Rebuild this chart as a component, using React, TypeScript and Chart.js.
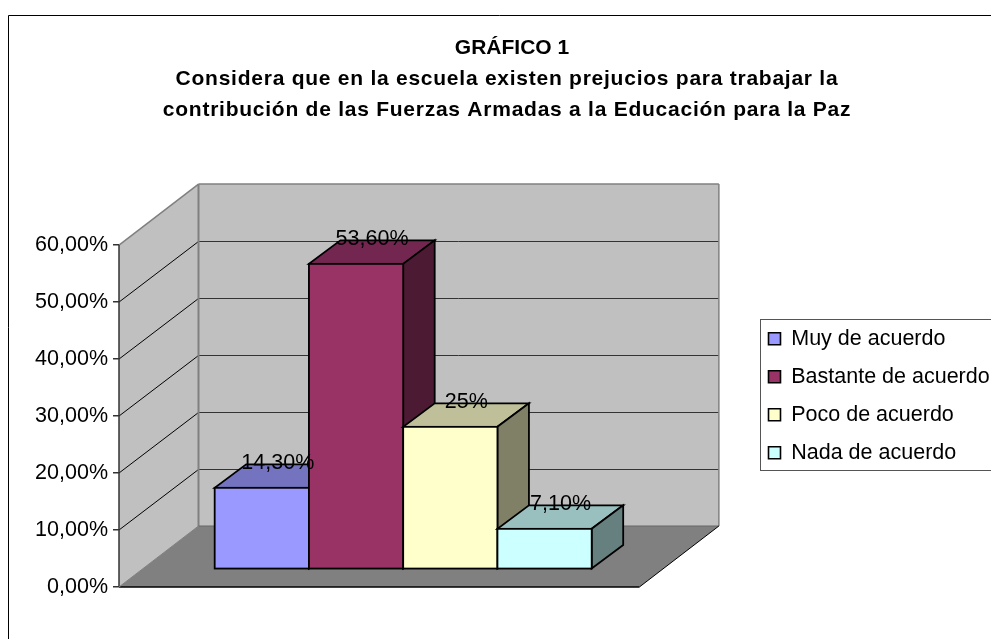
import React, { useEffect, useRef } from "react";
import { Chart, registerables } from "chart.js";

Chart.register(...registerables);

const categories = ["Respuestas"];
const seriesNames = ["Muy de acuerdo", "Bastante de acuerdo", "Poco de acuerdo", "Nada de acuerdo"];
const seriesValues = [14.3, 53.6, 25, 7.1];
const valueLabels = ["14,30%", "53,60%", "25%", "7,10%"];
const frontColors = ["#9999FF", "#993366", "#FFFFCC", "#CCFFFF"];
const topColors = ["#7373BF", "#732650", "#BFBF99", "#99BFBF"];
const sideColors = ["#4D4D80", "#4D1A33", "#808066", "#668080"];

const FONT = "'Liberation Sans', Arial, sans-serif";
const WALL_DX = 79.5;
const WALL_DY = -61;
const BAR_DX = 24;
const BAR_DY = -17.7;
const DEPTH_DX = 31.5;
const DEPTH_DY = -23.5;
const BAR_LINE = 1.8;

function poly(ctx: CanvasRenderingContext2D, pts: number[][], fill: string | null, stroke: string | null, lw = 1) {
  ctx.beginPath();
  pts.forEach((p, i) => (i ? ctx.lineTo(p[0], p[1]) : ctx.moveTo(p[0], p[1])));
  ctx.closePath();
  if (fill) {
    ctx.fillStyle = fill;
    ctx.fill();
  }
  if (stroke) {
    ctx.strokeStyle = stroke;
    ctx.lineWidth = lw;
    ctx.lineJoin = "miter";
    ctx.stroke();
  }
}

function line(ctx: CanvasRenderingContext2D, x1: number, y1: number, x2: number, y2: number, c: string, lw = 1) {
  ctx.beginPath();
  ctx.moveTo(x1, y1);
  ctx.lineTo(x2, y2);
  ctx.strokeStyle = c;
  ctx.lineWidth = lw;
  ctx.stroke();
}

const scene3d = {
  id: "scene3d",
  afterLayout(chart: any) {
    const lg = chart.legend;
    lg.left = 752;
    lg.right = 1000;
    lg.top = 311.5;
    lg.bottom = 500;
    chart.boxes.forEach((b: any) => {
      if (b.options && b.options.text && b !== lg) {
        b.left = 0;
        const isSub = Array.isArray(b.options.text);
        b.right = isSub ? 1014 : 1024;
        if (isSub && !b.__patched) {
          b.__patched = true;
          const draw = b.draw.bind(b);
          b.draw = () => {
            const ctx = chart.ctx;
            ctx.save();
            ctx.letterSpacing = "0.75px";
            draw();
            ctx.restore();
          };
        }
      }
    });
  },
  beforeDraw(chart: any) {
    const ctx: CanvasRenderingContext2D = chart.ctx;
    const { left, right } = chart.chartArea;
    const y = chart.scales.y;
    const y0 = y.getPixelForValue(0);
    const yMax = y.getPixelForValue(y.max);
    ctx.save();
    // chart frame
    ctx.fillStyle = "#FFFFFF";
    ctx.fillRect(0, 0, chart.width, chart.height);
    line(ctx, 8.5, 15.5, 991, 15.5, "#000000", 1);
    line(ctx, 8.5, 15.5, 8.5, 639, "#000000", 1);
    // side wall, back wall, floor
    poly(ctx, [[left, y0], [left + WALL_DX, y0 + WALL_DY], [left + WALL_DX, yMax + WALL_DY], [left, yMax]], "#C0C0C0", null);
    poly(ctx, [[left + WALL_DX, y0 + WALL_DY], [right + WALL_DX, y0 + WALL_DY], [right + WALL_DX, yMax + WALL_DY], [left + WALL_DX, yMax + WALL_DY]], "#C0C0C0", null);
    poly(ctx, [[left, y0], [left + WALL_DX, y0 + WALL_DY], [right + WALL_DX, y0 + WALL_DY], [right, y0]], "#808080", null);
    // gridlines
    y.ticks.forEach((t: any) => {
      const p = y.getPixelForValue(t.value);
      if (t.value > 0 && t.value < y.max) {
        const wallY = Math.round(p + WALL_DY) + 0.5;
        line(ctx, left, p, left + WALL_DX, wallY, "#000000", 1);
        line(ctx, left + WALL_DX, wallY, right + WALL_DX, wallY, "#333333", 1);
      }
    });
    // wall outlines
    line(ctx, left, yMax, left + WALL_DX, yMax + WALL_DY, "#808080", 1.5);
    line(ctx, left + WALL_DX, yMax + WALL_DY, right + WALL_DX, yMax + WALL_DY, "#808080", 1.5);
    line(ctx, left + WALL_DX, yMax + WALL_DY, left + WALL_DX, y0 + WALL_DY, "#808080", 2);
    line(ctx, right + WALL_DX, yMax + WALL_DY, right + WALL_DX, y0 + WALL_DY, "#808080", 1.5);
    line(ctx, left + WALL_DX, y0 + WALL_DY, right + WALL_DX, y0 + WALL_DY, "#666666", 1);
    line(ctx, right, y0, right + WALL_DX, y0 + WALL_DY, "#000000", 1);
    line(ctx, left, y0, right, y0, "#000000", 1.5);
    line(ctx, left, y0, left, yMax, "#333333", 1.5);
    line(ctx, left, y0, left + WALL_DX, y0 + WALL_DY, "#808080", 1);
    ctx.restore();
  },
  // Paint the series left to right, so that each box covers the hidden depth of the one before it.
  beforeDatasetsDraw(chart: any) {
    const ctx: CanvasRenderingContext2D = chart.ctx;
    seriesNames.forEach((_, i) => {
      const meta = chart.getDatasetMeta(i);
      ctx.save();
      ctx.translate(BAR_DX, BAR_DY);
      meta.data.forEach((bar: any) => {
        const { x, y, base, width } = bar.getProps(["x", "y", "base", "width"], true);
        const l = x - width / 2;
        const r = x + width / 2;
        poly(ctx, [[l, y], [r, y], [r + DEPTH_DX, y + DEPTH_DY], [l + DEPTH_DX, y + DEPTH_DY]], topColors[i], "#000000", BAR_LINE);
        poly(ctx, [[r, y], [r + DEPTH_DX, y + DEPTH_DY], [r + DEPTH_DX, base + DEPTH_DY], [r, base]], sideColors[i], "#000000", BAR_LINE);
      });
      meta.controller.draw();
      meta.data.forEach((bar: any) => {
        const { x, y, base, width } = bar.getProps(["x", "y", "base", "width"], true);
        ctx.strokeStyle = "#000000";
        ctx.lineWidth = BAR_LINE;
        ctx.strokeRect(x - width / 2, y, width, base - y);
      });
      ctx.restore();
    });
    ctx.save();
    ctx.font = `21.5px ${FONT}`;
    ctx.fillStyle = "#000000";
    ctx.textAlign = "center";
    ctx.textBaseline = "middle";
    seriesNames.forEach((_, i) => {
      const { x, y } = chart.getDatasetMeta(i).data[0].getProps(["x", "y"], true);
      ctx.fillText(valueLabels[i], x + BAR_DX + 16, y + BAR_DY - 25);
    });
    ctx.restore();
    return false;
  },
  afterDraw(chart: any) {
    // legend frame
    const ctx: CanvasRenderingContext2D = chart.ctx;
    ctx.save();
    ctx.strokeStyle = "#555555";
    ctx.lineWidth = 1;
    ctx.strokeRect(760.5, 319.5, 240, 151);
    ctx.restore();
  },
};

export default function App() {
  const ref = useRef<HTMLCanvasElement | null>(null);
  useEffect(() => {
    document.body.style.margin = "0";
    const chart = new Chart(ref.current as HTMLCanvasElement, {
      type: "bar",
      data: {
        labels: categories,
        datasets: seriesNames.map((name, i) => ({
          label: name,
          data: [seriesValues[i]],
          backgroundColor: frontColors[i],
          borderColor: "#000000",
          borderWidth: 0,
        })),
      },
      options: {
        responsive: false,
        animation: false,
        layout: { padding: { left: 0, right: 138.5, top: 0, bottom: 52 } },
        datasets: { bar: { barPercentage: 1, categoryPercentage: 0.7245 } },
        scales: {
          x: { display: false },
          y: {
            min: 0,
            max: 60,
            afterFit: (s: any) => { s.width = 119; },
            border: { display: false },
            grid: { display: true, drawOnChartArea: false, drawTicks: true, tickLength: 6, color: "#333333", lineWidth: 1.5 },
            ticks: {
              stepSize: 10,
              padding: 5,
              color: "#000000",
              font: { family: FONT, size: 21.5 },
              callback: (v: any) => `${Number(v).toFixed(2).replace(".", ",")}%`,
            },
          },
        },
        plugins: {
          title: {
            display: true,
            text: "GRÁFICO 1",
            color: "#000000",
            font: { family: FONT, size: 21, weight: "bold" },
            padding: { top: 36, bottom: 0 },
          },
          subtitle: {
            display: true,
            text: [
              "Considera que en la escuela existen prejucios para trabajar la",
              "contribución de las Fuerzas Armadas a la Educación para la Paz",
            ],
            color: "#000000",
            font: { family: FONT, size: 21, weight: "bold", lineHeight: 1.45 },
            padding: { top: 3, bottom: 120 },
          },
          tooltip: { enabled: false },
          legend: {
            display: true,
            position: "right",
            align: "start",
            labels: {
              color: "#000000",
              font: { family: FONT, size: 21.5 },
              boxWidth: 12,
              boxHeight: 12,
              padding: 16.5,
              generateLabels: (c: any) =>
                c.data.datasets.map((d: any, i: number) => ({
                  text: d.label,
                  fillStyle: d.backgroundColor,
                  strokeStyle: "#000000",
                  lineWidth: 1.6,
                  hidden: false,
                  datasetIndex: i,
                  fontColor: "#000000",
                })),
            },
          },
        },
      } as any,
      plugins: [scene3d],
    });
    return () => chart.destroy();
  }, []);
  return <canvas ref={ref} width={991} height={639} style={{ display: "block" }} />;
}
